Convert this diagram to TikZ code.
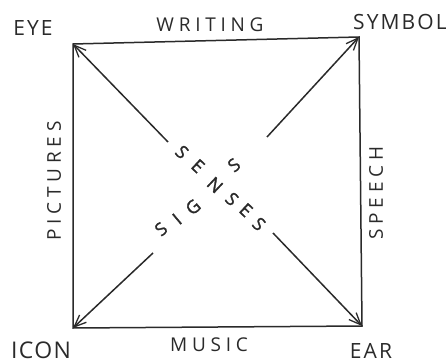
\documentclass[tikz,border=0pt]{standalone}
\usepackage{fontspec}
\setmainfont{Open Sans}
\usetikzlibrary{arrows.meta}
\definecolor{ink}{HTML}{2A2A2A}
\tikzset{
  edge/.style={draw=ink, line width=1.5pt},
  diag/.style={draw=ink, line width=1.5pt, -{Straight Barb[length=12pt,width=10pt,line width=1.3pt]}},
  lab/.style={text=ink, inner sep=0pt, font=\fontsize{21}{21}\selectfont\addfontfeature{LetterSpace=10}},
  wide/.style={text=ink, inner sep=0pt, font=\fontsize{19}{19}\selectfont\addfontfeature{LetterSpace=25}},
  let/.style={text=ink, inner sep=0pt, font=\fontsize{18}{18}\selectfont\addfontfeature{FakeBold=1.5}}
}
\begin{document}
\begin{tikzpicture}[x=1pt,y=-1pt]
\useasboundingbox (0,0) rectangle (446,363);
% corners
\coordinate (EYEc) at (73,44);
\coordinate (SYMc) at (359,37);
\coordinate (ICONc) at (73,328);
\coordinate (EARc) at (362,326);
% inner ends of diagonals
\coordinate (a1) at (168,142);
\coordinate (a2) at (267,137);
\coordinate (a3) at (153,253);
\coordinate (a4) at (273,233);
% square
\draw[edge] (EYEc) -- (SYMc) -- (EARc) -- (ICONc) -- cycle;
% diagonals
\draw[diag] (a1) -- (EYEc);
\draw[diag] (a2) -- (SYMc);
\draw[diag] (a3) -- (ICONc);
\draw[diag] (a4) -- (EARc);
% corner labels
\node[lab] (eye) at (33,28) {EYE};
\node[lab] (symbol) at (400,22) {SYMBOL};
\node[lab, font=\fontsize{23}{23}\selectfont\addfontfeature{LetterSpace=6}] (icon) at (41,350) {ICON};
\node[lab] (ear) at (371,351) {EAR};
% side labels
\node[wide] (writing) at (210,25) {WRITING};
\node[wide] (music) at (209,345) {MUSIC};
\node[wide, rotate=90] (pictures) at (54,181) {PICTURES};
\node[wide, rotate=90] (speech) at (376,193) {SPEECH};
% SENSES
\node[let, rotate=-43] (se1) at (182,152) {S};
\node[let, rotate=-43] (se2) at (198,166) {E};
\node[let, rotate=-43] (se3) at (215,185) {N};
\node[let, rotate=-43] (se4) at (232,199) {S};
\node[let, rotate=-43] (se5) at (246,210) {E};
\node[let, rotate=-43] (se6) at (259,224) {S};
% SIGNS (shares N)
\node[let, rotate=40] (si1) at (161,229) {S};
\node[let, rotate=40] (si2) at (177,219) {I};
\node[let, rotate=40] (si3) at (193,207) {G};
\node[let, rotate=40] (si5) at (234,165) {S};
\end{tikzpicture}
\end{document}
